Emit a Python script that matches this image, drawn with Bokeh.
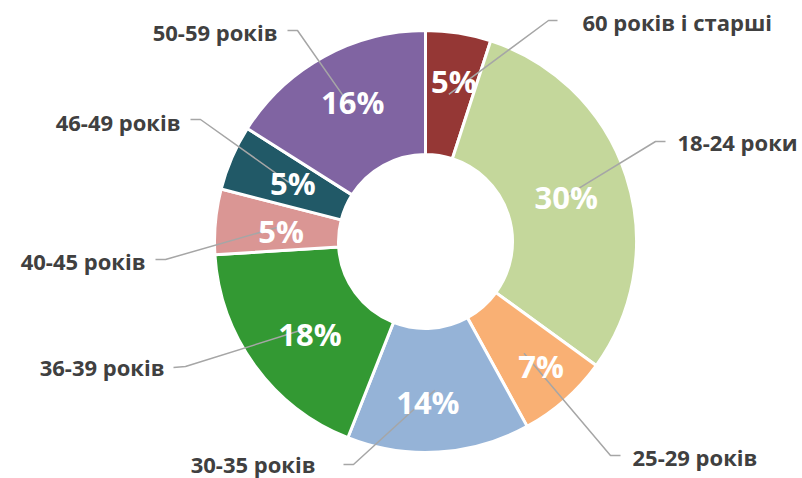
import math
from bokeh.plotting import figure
from bokeh.models import ColumnDataSource, Range1d
from bokeh.core.properties import value
from bokeh.embed import file_html
from bokeh.resources import INLINE

# ---- data ----
categories = ["60 років і старші", "18-24 роки", "25-29 років", "30-35 років",
              "36-39 років", "40-45 років", "46-49 років", "50-59 років"]
shares = [5, 30, 7, 14, 18, 5, 5, 16]
pct_labels = ["5%", "30%", "7%", "14%", "18%", "5%", "5%", "16%"]
colors = ["#953735", "#c4d79b", "#f9b074", "#95b3d7",
          "#339933", "#da9694", "#215967", "#8064a2"]

# ---- layout (pixel coords of the 802x478 picture, y downwards) ----
W, H = 802, 478
CX, CY = 425, 241
R_IN, R_OUT = 87, 211
R_MID = (R_IN + R_OUT) / 2

def Y(py):
    return H - py

# percent-label nudges (dx, dy) of the text centre relative to the ring mid-point
pct_nudge = [(5, -13), (-1, 1.5), (17, 13), (-7, 12), (5, 5), (4, 4), (4, 1), (-1, -9)]
# outer labels: text x, centre y, align, elbow point, line end
outer = [
    (582, 21, "left", (548, 20), (557, 20)),
    (677, 141.5, "left", (655, 141), (665, 141)),
    (632, 456, "left", (610, 455), (620, 455)),
    (315, 463, "right", (353, 464), (343, 464)),
    (164, 366.5, "right", (185, 366), (173, 367)),
    (145, 260, "right", (165, 259), (155, 259)),
    (180, 121.5, "right", (200, 119), (190, 119)),
    (277, 31.5, "right", (297, 30), (287, 30)),
]

total = float(sum(shares))
starts, ends, mids = [], [], []
cum = 0.0
for s in shares:
    a0 = cum / total
    cum += s
    a1 = cum / total
    starts.append(math.pi / 2 - 2 * math.pi * a0)
    ends.append(math.pi / 2 - 2 * math.pi * a1)
    mids.append((a0 + a1) / 2)

p = figure(width=W, height=H, output_backend="svg", toolbar_location=None,
           x_range=Range1d(0, W), y_range=Range1d(0, H),
           min_border=0, outline_line_color=None, background_fill_color="white")
p.axis.visible = False
p.grid.visible = False

wsrc = ColumnDataSource(dict(x=[CX] * len(shares), y=[Y(CY)] * len(shares),
                             start=starts, end=ends, color=colors))
p.annular_wedge(x="x", y="y", inner_radius=R_IN, outer_radius=R_OUT,
                start_angle="start", end_angle="end", direction="clock",
                fill_color="color", line_color="white", line_width=3, source=wsrc)

# anchors on the ring
anchors = []
for m in mids:
    ang = 2 * math.pi * m
    anchors.append((CX + R_MID * math.sin(ang), CY - R_MID * math.cos(ang)))

# leader lines
xs, ys = [], []
for (ax, ay), (_, _, _, elbow, end) in zip(anchors, outer):
    xs.append([ax, elbow[0], end[0]])
    ys.append([Y(ay), Y(elbow[1]), Y(end[1])])
p.multi_line(xs=xs, ys=ys, line_color="#a6a6a6", line_width=1.5)

# percent labels
psrc = ColumnDataSource(dict(
    x=[a[0] + n[0] for a, n in zip(anchors, pct_nudge)],
    y=[Y(a[1] + n[1]) for a, n in zip(anchors, pct_nudge)],
    t=pct_labels))
p.text(x="x", y="y", text="t", source=psrc, text_color="white",
       text_font=value("Open Sans"), text_font_style="bold", text_font_size="31px",
       text_align="center", text_baseline="middle")

# category labels
for cat, (tx, ty, al, _, _) in zip(categories, outer):
    p.text(x=[tx], y=[Y(ty)], text=[cat], text_color="#404040",
           text_font=value("Open Sans"), text_font_style="bold", text_font_size="22px",
           text_align=al, text_baseline="middle")

open("out.html", "w").write(file_html(p, INLINE))
